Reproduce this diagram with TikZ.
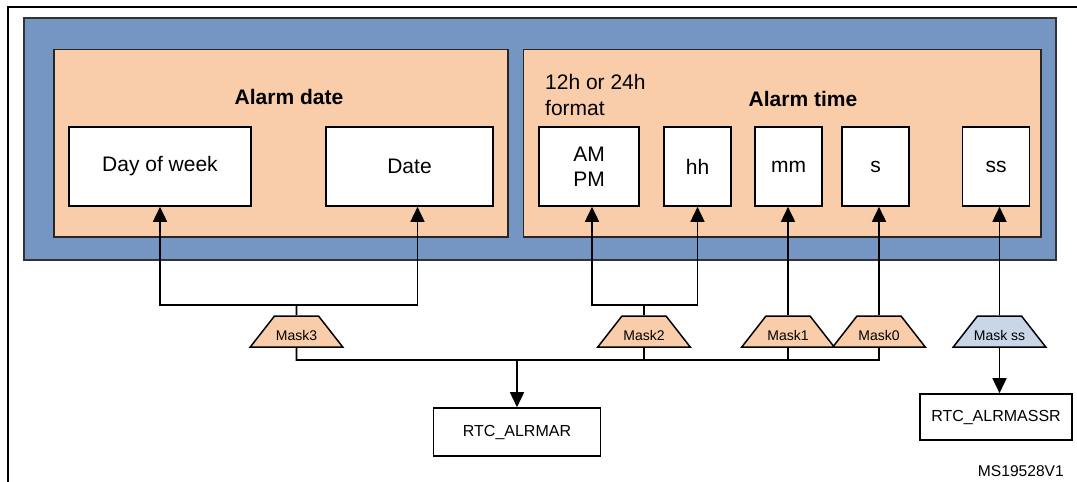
\documentclass[tikz,border=0pt]{standalone}
\usepackage{fontspec}
\setmainfont{Liberation Sans}
\usetikzlibrary{shapes.geometric,arrows.meta}

\definecolor{regblue}{RGB}{117,150,194}
\definecolor{regorange}{RGB}{249,205,170}
\definecolor{maskblue}{RGB}{200,214,232}

\begin{document}
\begin{tikzpicture}[x=1pt,y=-1pt,
    groupbox/.style={draw=black!85,line width=1.7pt,fill=regorange},
    fieldbox/.style={draw,line width=1.6pt,fill=white,minimum height=79,inner sep=0pt,align=center,font=\fontsize{21}{25}\selectfont},
    maskbox/.style={trapezium,trapezium left angle=52,trapezium right angle=52,
                    inner xsep=0pt,inner ysep=7pt,text height=17pt,text depth=0pt,
                    draw,line width=1.5pt,fill=regorange,font=\fontsize{14}{16}\selectfont},
    regbox/.style={draw,line width=1.6pt,fill=white,inner sep=0pt,font=\fontsize{16}{19}\selectfont},
    link/.style={line width=1.6pt},
    arrowlink/.style={link,-{Triangle[length=15pt,width=14pt]}}]

    \newcommand*{\fieldy}{166.5}%
    \newcommand*{\masky}{331.5}%
    \newcommand*{\masklabel}[1]{\makebox[44pt]{#1}}%

    \useasboundingbox (0,0) rectangle (1077,482);

    % frame and register blocks
    \draw [line width=2pt] (7.6,490) -- (7.6,7.4) -- (1085,7.4);
    \draw [draw=black!80,line width=1.7pt,fill=regblue] (24,18) rectangle (1056,260);
    \draw [groupbox] (54,49.5) rectangle (508,237);
    \draw [groupbox] (523.5,49.5) rectangle (1041,237);

    \node [font=\bfseries\fontsize{21}{25}\selectfont] (datetitle) at (289,97) {Alarm date};
    \node [font=\bfseries\fontsize{21}{25}\selectfont] (timetitle) at (803,99) {Alarm time};
    \node [anchor=west,align=left,inner sep=0pt,font=\fontsize{21}{26}\selectfont] (fmt) at (545,95) {12h or 24h\\format};

    \node [fieldbox,minimum width=182] (day) at (160,\fieldy) {Day of week};
    \node [fieldbox,minimum width=167] (date) at (409.5,\fieldy) {Date};
    \node [fieldbox,minimum width=100.5] (ampm) at (589,\fieldy) {AM\\PM};
    \foreach \name/\x/\txt in {hh/697.5/hh,mm/788.5/mm,sec/875.5/s,subsec/996/ss}
       {\node [fieldbox,minimum width=67] (\name) at (\x,\fieldy) {\txt};}

    % masks
    \node [maskbox] (mask3) at (296.5,\masky) {\masklabel{Mask3}};
    \node [maskbox] (mask2) at (644,\masky) {\masklabel{Mask2}};
    \node [maskbox] (mask1) at (788,\masky) {\masklabel{Mask1}};
    \node [maskbox] (mask0) at (879,\masky) {\masklabel{Mask0}};
    \node [maskbox,fill=maskblue] (maskss) at (999.5,\masky) {\masklabel{Mask ss}};

    \node [regbox,minimum width=167,minimum height=48] (alrmar) at (517,432) {RTC\_ALRMAR};
    \node [regbox,minimum width=151.5,minimum height=46] (alrmassr) at (996,417) {RTC\_ALRMASSR};
    \node [anchor=east,inner sep=0pt,font=\fontsize{15.6}{18}\selectfont] (ref) at (1064,471) {MS19528V1};

    % masks to fields
    \coordinate (datebus) at (296.5,305);
    \coordinate (hourbus) at (644,305);
    \draw [link] (mask3.north) -- (datebus);
    \draw [arrowlink] (datebus) -| (day.south);
    \draw [arrowlink] (datebus) -| ([xshift=8]date.south);
    \draw [link] (mask2.north) -- (hourbus);
    \draw [arrowlink] (hourbus) -| ([xshift=3]ampm.south);
    \draw [arrowlink] (hourbus) -| (hh.south);
    \draw [arrowlink] (mask1.north) -- (mask1.north |- mm.south);
    \draw [arrowlink] (mask0.north) -- (mask0.north |- sec.south);
    \draw [arrowlink] (maskss.north) -- (maskss.north |- subsec.south);

    % masks to registers
    \coordinate (busend) at (879,360);
    \draw [link] (mask3.south) |- (busend) -- (mask0.south);
    \draw [link] (mask2.south) -- (mask2.south |- busend);
    \draw [link] (mask1.south) -- (mask1.south |- busend);
    \draw [arrowlink] (alrmar.north |- busend) -- (alrmar.north);
    \draw [arrowlink] (maskss.south) -- (maskss.south |- alrmassr.north);

\end{tikzpicture}
\end{document}
